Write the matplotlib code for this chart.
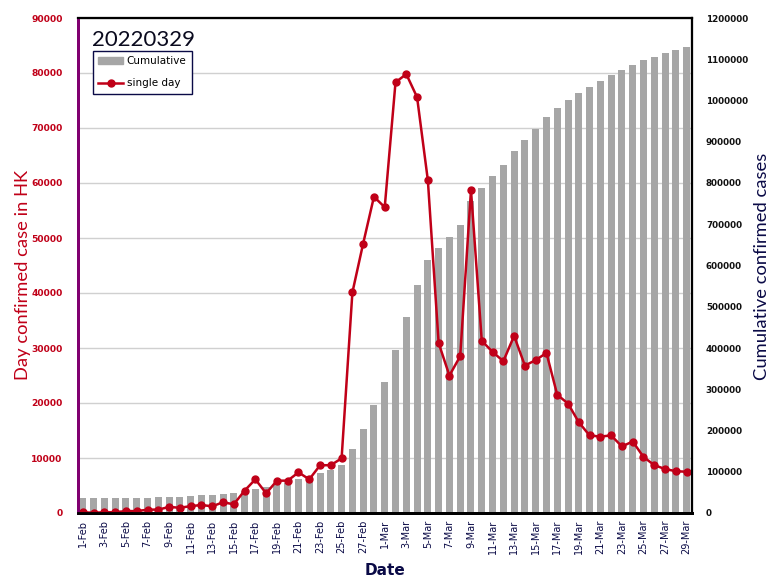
import numpy as np
import matplotlib
matplotlib.use("Agg")
import matplotlib.pyplot as plt
from matplotlib.patches import Patch
from matplotlib.lines import Line2D
from matplotlib.ticker import FuncFormatter

# dates on the x axis (Feb-Mar 2022)
dates = [f"{d}-Feb" for d in range(1, 29)] + [f"{d}-Mar" for d in range(1, 30)]

# daily confirmed cases (left axis)
daily = [120, 50, 130, 150, 340, 350, 600, 620, 1100, 950,
         1250, 1450, 1220, 1950, 1580, 4060, 6120, 3580, 5880, 5880,
         7390, 6120, 8670, 8700, 9940, 40100, 49000, 57500,
         55600, 78300, 79800, 75600, 60500, 30900, 25000, 28500, 58700, 31300,
         29300, 27600, 32200, 26800, 27800, 29100, 21500, 19900, 16500, 14100,
         13900, 14100, 12100, 13000, 10200, 8700, 8000, 7600, 7500]

# cumulative confirmed cases (right axis)
cumulative = [36400, 36400, 36400, 36400, 36400, 36400, 36400, 38800, 38800, 38800,
              41200, 43600, 43600, 46100, 48500, 53300, 58200, 63000, 67900, 73800,
              82400, 89700, 97000, 104200, 116400, 155000, 203600, 261800,
              317000, 395000, 476000, 553000, 613000, 642000, 669000, 699000, 757000, 788000,
              817000, 844000, 878000, 904000, 931000, 960000, 982000, 1001000, 1018000, 1033000,
              1047000, 1062000, 1074000, 1086000, 1098000, 1105000, 1114000, 1122000, 1130000]

red = "#C00018"
navy = "#0A0A46"
x = np.arange(len(dates))
plain = FuncFormatter(lambda v, p: f"{int(v)}")

fig = plt.figure(figsize=(7.77, 5.82), dpi=100)
ax = fig.add_axes([78 / 777, 69 / 582, 614 / 777, 495 / 582])
ax2 = ax.twinx()
ax3 = ax.twinx()

# left axis: grid + ticks
ax.set_ylim(0, 90000)
ax.set_yticks(np.arange(0, 90001, 10000))
ax.yaxis.set_major_formatter(plain)
ax.grid(axis="y", color="#d0d0d0", linewidth=1)
ax.set_axisbelow(True)
ax.tick_params(axis="y", length=0, labelsize=6.6, pad=11, labelcolor=red)
for lab in ax.get_yticklabels():
    lab.set_fontweight("bold")
ax.set_ylabel("Day confirmed case in HK", color=red, fontsize=13.2, family="Lato")
ax.yaxis.set_label_coords(-0.076, 0.481)

# right axis: cumulative bars
ax2.bar(x, cumulative, width=0.65, color="#A6A6A6", zorder=2)
ax2.set_ylim(0, 1200000)
ax2.set_yticks(np.arange(0, 1200001, 100000))
ax2.yaxis.set_major_formatter(plain)
ax2.tick_params(axis="y", length=0, labelsize=6.3, pad=10, labelcolor="#111111")
for lab in ax2.get_yticklabels():
    lab.set_fontweight("bold")
ax2.set_ylabel("Cumulative confirmed cases", color=navy, fontsize=13.2, family="Lato")
ax2.yaxis.set_label_coords(1.101, 0.498)

# top layer: daily line on the left scale
ax3.plot(x, daily, color=red, linewidth=1.8, marker="o", markersize=5)
ax3.set_ylim(ax.get_ylim())
ax3.set_yticks([])

ax.set_xlim(-0.45, len(dates) - 0.5)
ax.set_xticks(x[::2])
ax.set_xticklabels(dates[::2], rotation=90, fontsize=7, color=navy)
ax.tick_params(axis="x", length=0, pad=5)
ax.set_xlabel("Date", fontsize=11, fontweight="bold", color=navy, labelpad=6)

for a in (ax, ax2, ax3):
    a.spines["top"].set_linewidth(1.5)
    a.spines["right"].set_linewidth(1.5)
    a.spines["bottom"].set_linewidth(2)
    a.spines["left"].set_color("#800070")
    a.spines["left"].set_linewidth(2)

ax3.text(0.022, 0.975, "20220329", transform=ax3.transAxes, fontsize=16,
         family="Lato", va="top", ha="left", color="#0a0a1e")

handles = [Patch(color="#A6A6A6"),
           Line2D([], [], color=red, linewidth=1.8, marker="o", markersize=5)]
leg = ax3.legend(handles, ["Cumulative", "single day"], loc="upper left",
                 bbox_to_anchor=(0.024, 0.934), borderaxespad=0, fontsize=7.5,
                 fancybox=False, framealpha=1, edgecolor=navy,
                 labelspacing=1.15, handlelength=2.4, handletextpad=0.3,
                 borderpad=0.55)
leg.get_frame().set_linewidth(1.0)

fig.savefig("out.png", dpi=100)
